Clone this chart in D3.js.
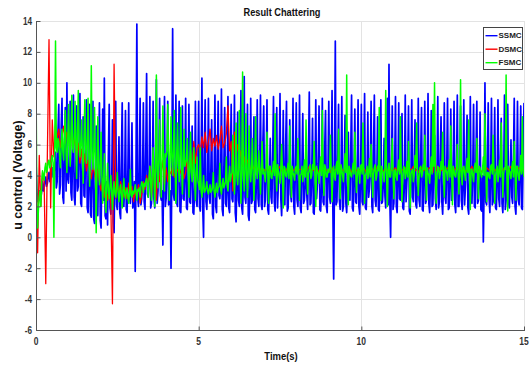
<!DOCTYPE html>
<html>
<head>
<meta charset="utf-8">
<script src="https://cdn.jsdelivr.net/npm/d3@7"></script>
<style>
  html, body { margin: 0; padding: 0; background: #fff; }
  svg { display: block; }
  text { font-family: "Liberation Sans", Arial, sans-serif; font-weight: bold; }
</style>
</head>
<body>
<svg id="chart" width="531" height="365"></svg>
<script>
// Control effort u(t) of the three controllers over 0..15 s
const seriesNames = ["SSMC", "DSMC", "FSMC"];
const seriesColors = ["#0000ff", "#ff0000", "#00ff00"];
const seriesSteps = [0.025, 0.05, 0.025];   // sampling period of each record, s

const xTicks = [0, 5, 10, 15];
const yTicks = [-6, -4, -2, 0, 2, 4, 6, 8, 10, 12, 14];

// SSMC, one row per second (40 samples)
const ssmc = [
  5.0,3.1,2.3,2.7,3.0,2.4,2.5,3.1,3.6,3.0,3.2,3.7,3.9,3.3,3.5,4.0,4.2,3.6,3.8,4.3,4.5,3.9,4.0,4.8,5.5,3.2,3.6,6.8,8.6,2.8,3.4,7.2,9.0,2.6,2.2,5.4,8.4,3.0,10.0,3.8,
  3.5,4.6,8.8,2.9,2.4,5.2,9.2,2.6,2.1,4.4,8.5,3.0,3.3,6.0,9.3,2.2,2.0,4.8,7.8,2.7,2.6,5.6,8.9,1.9,1.6,3.8,8.6,1.5,1.3,4.2,8.8,1.2,0.9,3.4,7.2,1.8,1.4,5.0,8.7,1.1,
  0.6,4.0,8.3,2.4,10.3,1.4,1.2,3.6,0.8,5.4,8.6,1.9,1.5,3.2,7.6,1.0,0.3,4.6,8.8,2.1,1.8,3.8,6.5,1.6,1.2,5.2,8.7,2.4,2.0,3.4,8.2,1.8,1.6,4.4,8.7,2.6,2.2,3.6,7.4,1.9,
  2.4,3.6,-2.2,5.0,13.8,2.6,2.0,4.2,9.0,2.1,2.5,3.8,8.7,2.3,1.8,5.6,10.6,2.8,2.6,4.0,9.1,1.9,2.2,3.4,8.8,2.5,1.9,4.8,10.2,2.2,3.0,5.2,9.0,2.7,2.4,3.0,-0.5,4.4,9.1,2.0,
  2.5,4.6,8.8,2.1,2.2,3.0,-2.0,4.0,13.5,2.8,2.4,3.6,9.2,2.2,2.0,5.0,8.8,1.7,1.6,3.4,8.5,2.5,2.4,4.2,9.0,1.9,1.8,3.8,8.6,2.3,2.2,4.6,7.2,1.6,1.5,3.2,8.8,2.4,2.0,4.4,
  8.8,2.0,1.7,4.8,10.3,1.9,0.0,5.6,8.9,2.3,1.8,3.6,9.0,2.6,2.2,4.4,7.6,1.5,1.2,3.8,9.2,2.0,1.6,5.2,8.8,2.7,2.5,3.4,9.6,1.8,1.4,4.6,8.4,2.2,2.0,3.2,9.1,1.9,1.6,5.0,
  8.6,2.5,2.3,4.2,9.2,1.6,1.0,3.6,8.1,2.4,2.0,5.4,9.5,1.9,1.5,3.8,10.4,2.6,2.2,4.6,8.6,1.4,1.1,3.2,9.0,2.2,2.4,5.0,7.8,1.8,1.6,3.6,8.9,2.5,2.0,4.4,9.2,2.1,1.8,6.2,
  8.5,2.0,2.4,4.4,8.9,1.8,1.5,3.6,6.4,2.6,2.2,5.2,9.1,2.3,1.7,3.9,8.4,1.9,3.5,4.8,9.3,2.5,1.4,3.4,8.2,2.2,2.1,6.0,8.8,1.7,1.9,4.2,7.6,2.8,2.3,3.6,9.0,2.0,1.5,4.9,
  8.7,2.4,2.0,3.8,9.2,1.9,1.6,4.6,8.0,2.2,2.4,3.4,6.2,2.7,1.8,5.4,9.4,2.1,2.2,4.0,7.7,1.6,1.5,3.6,8.9,2.5,3.4,4.8,8.5,1.8,1.7,3.2,9.0,2.3,2.1,5.8,8.2,2.0,1.6,4.3,
  8.8,2.6,2.2,4.4,9.5,1.8,-2.7,3.6,12.7,2.1,2.3,5.0,8.6,2.4,1.8,3.8,9.1,1.7,2.0,4.6,7.9,2.2,1.6,3.4,6.8,2.6,2.4,5.6,9.2,1.9,1.7,3.9,8.3,2.3,2.2,4.2,8.9,2.0,1.5,3.6,
  8.6,2.3,2.1,4.8,9.3,1.9,1.8,3.5,8.1,2.6,3.2,4.4,8.8,2.0,1.6,5.6,9.2,2.4,2.0,3.7,7.8,1.8,1.7,4.2,8.9,2.2,2.3,3.4,6.4,2.7,1.9,5.0,9.0,2.1,11.2,2.5,0.0,4.0,8.5,1.8,
  2.2,4.5,9.1,2.0,1.6,3.8,8.7,2.5,2.4,5.2,8.0,1.9,1.8,3.6,9.2,2.3,3.6,4.4,8.5,1.7,1.5,3.9,8.9,2.6,2.3,4.8,7.6,2.1,1.9,3.4,9.0,2.4,2.0,5.4,8.4,1.8,1.7,4.0,8.8,2.2,
  2.4,4.1,9.3,2.2,1.6,3.6,8.2,2.0,2.1,4.9,6.6,2.5,1.8,3.8,9.1,1.9,2.3,5.3,7.8,2.3,1.5,3.5,8.7,2.6,2.2,4.4,9.0,1.8,1.9,3.7,8.3,2.4,2.4,5.0,8.8,2.1,1.6,4.2,9.2,2.0,
  2.0,4.6,8.5,2.4,1.8,3.4,8.9,2.1,3.3,5.1,7.9,1.9,1.5,3.8,9.1,2.5,2.2,4.3,8.6,2.0,1.9,5.5,8.8,2.2,2.4,3.6,8.1,1.8,1.7,4.0,-0.3,3.2,10.0,2.3,2.1,4.7,8.7,2.6,1.6,3.9,
  9.0,2.1,2.3,4.4,8.4,1.9,1.8,3.7,8.9,2.5,2.0,5.2,7.7,2.2,1.6,3.5,9.2,1.8,2.4,4.6,8.6,2.3,1.9,3.9,6.3,2.6,2.2,5.0,9.0,2.0,1.5,3.6,8.8,2.4,2.1,4.3,8.5,1.9,1.8,5.4,
  8.7
];

// DSMC, one row per second (20 samples)
const dsmc = [
  5.5,-1.0,5.3,2.0,4.2,3.6,-3.0,5.5,12.8,1.9,7.6,5.2,7.3,6.4,7.0,5.8,6.6,7.2,6.1,6.8,
  6.5,5.6,7.0,5.9,6.4,5.2,6.1,4.8,5.7,4.6,5.4,4.3,5.0,4.5,3.8,4.6,4.1,3.4,4.4,3.6,
  3.0,3.8,2.6,3.3,2.4,3.1,2.2,-4.3,11.2,2.5,3.4,2.7,3.6,2.9,2.6,3.2,2.5,3.5,2.8,3.3,
  2.3,3.0,2.6,3.4,2.2,2.8,3.6,3.1,4.0,3.3,4.6,2.6,3.8,4.4,2.4,4.8,3.6,4.2,5.0,3.4,
  4.5,3.6,4.3,4.1,4.6,3.9,4.2,4.4,4.0,4.3,4.6,3.8,4.2,5.2,4.0,5.6,4.4,6.2,4.8,5.8,
  6.0,5.4,6.5,5.8,6.8,5.5,6.2,7.0,5.6,6.4,5.9,6.6,5.7,6.3,7.2,5.8,6.1,6.7,8.5,5.6,
  6.2,3.0,6.8,5.4,6.0,5.0,5.6,4.6,5.2,4.4,5.0,4.8,4.3,4.7,4.4,4.6,4.3,4.5,4.4,4.3,
  4.4,4.3,4.5,4.3,4.4,4.2,4.5,4.4,4.3,4.4,4.6,4.3,4.4,4.2,4.4,4.5,4.3,4.4,4.3,4.4,
  4.5,4.3,4.4,4.4,4.2,4.5,4.3,4.4,4.6,4.3,4.4,4.3,4.5,4.4,4.2,4.4,4.3,4.5,4.4,4.3,
  4.4,4.2,4.5,4.3,4.4,4.4,4.3,4.6,4.4,4.3,4.4,4.5,4.3,4.4,4.2,4.4,4.5,4.3,4.4,4.4,
  4.3,4.5,4.4,4.2,4.4,4.3,4.5,4.4,4.3,4.4,4.6,4.4,4.3,4.4,4.2,4.5,4.3,4.4,4.4,4.3,
  4.4,4.5,4.3,4.4,4.2,4.4,4.3,4.5,4.4,4.3,4.4,4.4,4.6,4.3,4.4,4.2,4.4,4.5,4.3,4.4,
  4.3,4.4,4.5,4.4,4.2,5.5,4.3,4.4,4.5,4.3,4.4,4.2,4.4,4.5,4.3,4.4,4.4,4.3,4.5,4.4,
  4.4,4.3,4.4,4.5,4.2,4.4,4.3,4.4,4.6,4.3,4.4,4.5,4.3,4.4,4.2,4.4,4.3,4.5,4.4,4.3,
  4.4,4.5,4.3,4.4,4.2,4.4,4.4,4.3,4.5,4.4,4.3,4.4,4.6,4.3,4.4,4.2,4.4,4.5,4.3,4.4,
  4.4
];

// FSMC, one row per second (40 samples)
const fsmc = [
  10.5,2.4,0.6,1.8,2.6,3.0,2.0,3.6,4.3,4.0,3.7,4.5,4.8,4.2,4.4,4.9,5.0,4.5,4.6,5.1,5.3,4.8,0.0,5.2,12.7,5.8,5.5,6.4,6.2,5.2,4.5,6.0,7.0,5.6,5.0,6.6,8.2,5.4,4.2,6.2,
  8.6,6.0,4.6,6.6,9.2,5.8,5.5,6.4,8.8,6.1,3.8,6.8,9.5,6.2,5.2,6.0,7.6,5.6,3.5,6.3,8.9,5.9,4.8,6.1,9.0,5.4,3.3,5.8,11.1,5.2,4.4,5.6,8.4,4.8,0.3,5.0,7.8,4.6,3.4,4.8,
  6.8,4.0,2.2,3.6,5.4,3.2,1.6,3.4,4.8,3.0,2.5,3.3,4.0,2.9,1.8,3.1,3.6,2.8,2.6,3.2,4.2,2.9,2.3,3.0,3.4,2.7,1.9,3.1,3.8,2.8,2.5,3.0,3.2,2.6,2.2,2.9,4.4,2.7,2.6,3.0,
  2.8,3.0,3.4,2.9,2.4,3.1,3.0,3.2,2.6,3.3,3.6,3.4,2.9,3.5,3.3,3.6,3.8,3.4,2.6,3.9,4.6,3.6,2.4,4.2,5.8,4.0,2.0,4.6,10.5,4.3,3.2,5.0,7.6,4.6,2.6,5.2,8.5,4.8,3.0,5.4,
  5.2,5.6,8.6,5.0,2.4,5.4,7.8,5.2,4.0,5.6,8.2,4.9,2.2,5.3,7.4,5.0,3.6,5.4,8.4,4.8,2.8,5.1,7.0,4.6,4.8,5.0,6.4,4.4,2.6,4.7,6.8,4.2,3.6,4.5,5.8,3.9,2.4,4.2,5.2,3.7,
  3.4,3.1,5.8,3.0,2.6,3.2,4.0,2.9,3.0,3.2,3.6,3.0,2.8,3.1,3.4,2.9,3.0,3.2,4.2,3.0,2.6,3.1,3.5,2.9,3.2,3.3,4.8,3.1,2.8,3.4,3.8,3.2,3.4,3.6,5.2,3.4,3.0,3.8,4.6,3.6,
  4.0,4.2,6.6,3.9,2.8,4.3,7.4,4.0,3.4,4.4,8.2,4.1,2.2,4.5,10.7,4.2,3.0,4.4,8.0,4.0,2.6,4.6,7.2,4.2,3.6,4.5,6.4,4.1,2.4,4.4,7.8,4.3,3.8,4.6,5.6,4.2,2.8,4.5,6.2,4.1,
  4.4,4.0,3.6,4.5,6.8,4.1,2.2,4.6,4.6,3.9,3.8,4.4,4.9,4.0,8.0,4.3,3.0,4.7,4.3,3.9,3.5,4.5,6.0,4.2,1.9,4.6,4.5,4.0,3.9,4.4,4.8,3.8,7.2,4.3,2.6,4.6,4.2,4.0,3.7,4.5,
  4.6,4.1,6.4,4.4,2.4,4.0,4.1,4.6,3.6,4.2,5.0,3.9,7.6,4.5,2.8,4.1,4.4,4.7,3.8,4.0,4.7,4.4,6.2,3.9,2.0,4.6,4.3,4.1,3.5,4.5,5.2,4.0,8.2,4.3,2.7,4.7,4.5,3.9,3.9,4.4,
  4.2,4.5,6.6,4.0,2.3,4.4,4.6,3.9,3.7,4.6,4.9,4.1,7.0,4.3,2.5,4.7,4.4,4.0,3.6,4.5,5.4,4.2,10.5,3.9,2.1,4.6,4.3,4.0,3.9,4.4,4.8,4.1,6.8,4.5,2.9,3.9,4.5,4.3,3.5,4.6,
  4.7,4.1,7.4,4.4,2.2,4.0,4.2,4.6,3.8,4.2,5.1,3.9,6.0,4.5,2.6,4.1,4.5,4.7,3.7,4.0,4.6,4.3,8.4,3.9,2.4,4.6,4.3,4.2,3.6,4.5,9.5,4.0,2.0,4.4,4.8,3.9,3.9,4.6,6.4,4.1,
  2.5,4.3,4.4,3.9,3.7,4.6,5.0,4.1,7.8,4.4,2.3,4.0,4.6,4.5,3.8,4.2,4.9,3.9,6.2,4.6,1.9,4.1,4.3,4.4,3.6,4.0,5.3,4.5,7.4,4.2,2.7,3.9,4.5,4.6,3.9,4.1,4.7,4.4,6.6,4.0,
  2.4,4.5,4.2,4.0,3.5,4.4,5.2,4.1,8.6,4.6,10.0,4.2,2.2,3.9,4.6,4.5,3.8,4.1,4.9,4.4,6.8,4.0,2.6,4.6,4.4,4.2,3.7,4.5,5.0,3.9,7.2,4.3,2.1,4.6,4.3,4.0,3.9,4.4,6.0,4.1,
  2.8,4.4,10.2,4.0,3.4,4.5,4.6,4.1,3.7,4.6,5.1,4.2,7.6,3.9,1.8,4.4,4.4,4.0,3.6,4.5,4.8,4.2,6.4,3.9,2.5,4.6,4.5,4.1,3.9,4.4,5.2,4.0,8.0,4.5,2.3,4.2,4.2,3.9,3.8,4.6,
  4.7,4.1,6.6,4.4,2.2,4.0,4.4,4.6,3.6,4.2,5.0,3.9,7.4,4.5,2.6,4.1,4.5,4.4,10.5,4.0,1.7,4.6,4.3,4.2,3.8,4.5,4.9,3.9,6.2,4.3,2.4,4.6,4.6,4.0,3.7,4.4,5.3,4.1,7.8,4.3,
  3.9
];

const seriesValues = [ssmc, dsmc, fsmc];
const seriesWidths = [1.7, 1.3, 1.5];

const svg = d3.select("#chart");
const plot = { left: 36, right: 524, top: 21, bottom: 330 };

const x = d3.scaleLinear().domain([0, 15]).range([plot.left, plot.right]);
const y = d3.scaleLinear().domain([-6, 14]).range([plot.bottom, plot.top]);

// Places a text at (px, py), squeezed horizontally by sx
function placeText(sel, px, py, sx) {
  return sel.attr("x", 0).attr("y", 0)
    .attr("transform", (d, i) => {
      const tx = typeof px === "function" ? px(d, i) : px;
      const ty = typeof py === "function" ? py(d, i) : py;
      return `translate(${tx},${ty}) scale(${sx},1)`;
    });
}

// grid
const grid = svg.append("g").attr("stroke", "#e3e3e3").attr("stroke-width", 1);
grid.selectAll("line.gy").data(yTicks).join("line")
  .attr("x1", plot.left).attr("x2", plot.right)
  .attr("y1", d => Math.round(y(d)) + 0.5).attr("y2", d => Math.round(y(d)) + 0.5);
grid.selectAll("line.gx").data(xTicks.filter(d => d > 0)).join("line")
  .attr("x1", d => Math.round(x(d)) + 0.5).attr("x2", d => Math.round(x(d)) + 0.5)
  .attr("y1", plot.top).attr("y2", plot.bottom);

// series
svg.append("clipPath").attr("id", "plotClip").append("rect")
  .attr("x", plot.left).attr("y", plot.top)
  .attr("width", plot.right - plot.left).attr("height", plot.bottom - plot.top);

const traces = svg.append("g").attr("clip-path", "url(#plotClip)");
seriesValues.forEach((values, k) => {
  const path = d3.line()
    .x((d, i) => x(i * seriesSteps[k]))
    .y(d => y(d));
  traces.append("path")
    .attr("d", path(values))
    .attr("fill", "none")
    .attr("stroke", seriesColors[k])
    .attr("stroke-width", seriesWidths[k])
    .attr("stroke-linejoin", "round");
});

// axes (ticks point inward)
const axisColor = "#555";
const yAxis = svg.append("g")
  .attr("transform", `translate(${plot.left + 0.5},0)`)
  .call(d3.axisRight(y).tickValues(yTicks).tickSize(4).tickFormat(""));
const xAxis = svg.append("g")
  .attr("transform", `translate(0,${plot.bottom + 0.5})`)
  .call(d3.axisTop(x).tickValues(xTicks).tickSize(4).tickFormat(""));
[yAxis, xAxis].forEach(a => {
  a.select(".domain").remove();
  a.selectAll(".tick line").attr("stroke", axisColor);
});
svg.append("path")
  .attr("d", `M${plot.left + 0.5},${plot.top}V${plot.bottom + 0.5}H${plot.right + 1}`)
  .attr("fill", "none").attr("stroke", axisColor).attr("stroke-width", 1);

// tick labels
placeText(svg.append("g").selectAll("text").data(yTicks).join("text"),
    plot.left - 4, d => y(d) + 3.5, 0.82)
  .attr("text-anchor", "end")
  .attr("font-size", 10).attr("fill", "#333")
  .text(d => d);
placeText(svg.append("g").selectAll("text").data(xTicks).join("text"),
    d => x(d), plot.bottom + 15, 0.85)
  .attr("text-anchor", "middle")
  .attr("font-size", 10).attr("fill", "#333")
  .text(d => d);

// titles
placeText(svg.append("text"), 282, 16, 0.88)
  .attr("text-anchor", "middle")
  .attr("font-size", 10.5).attr("fill", "#111").text("Result Chattering");
placeText(svg.append("text"), 281, 360, 0.9)
  .attr("text-anchor", "middle")
  .attr("font-size", 10.5).attr("fill", "#111").text("Time(s)");
svg.append("text").attr("transform", "translate(22,175) rotate(-90)")
  .attr("text-anchor", "middle").attr("font-size", 12.5).attr("fill", "#111")
  .text("u control (Voltage)");

// legend
const legend = svg.append("g").attr("transform", "translate(483.5,27.5)");
legend.append("rect").attr("width", 39).attr("height", 42)
  .attr("fill", "#fff").attr("stroke", "#444").attr("stroke-width", 1);
seriesNames.forEach((name, k) => {
  const row = legend.append("g").attr("transform", `translate(0,${8 + k * 13.5})`);
  row.append("rect")
    .attr("x", 2).attr("y", -0.5).attr("width", 12).attr("height", 1.4)
    .attr("fill", seriesColors[k]);
  row.append("text").attr("x", 15).attr("dy", "0.35em")
    .attr("font-size", 8).attr("fill", "#222").text(name);
});
</script>
</body>
</html>
